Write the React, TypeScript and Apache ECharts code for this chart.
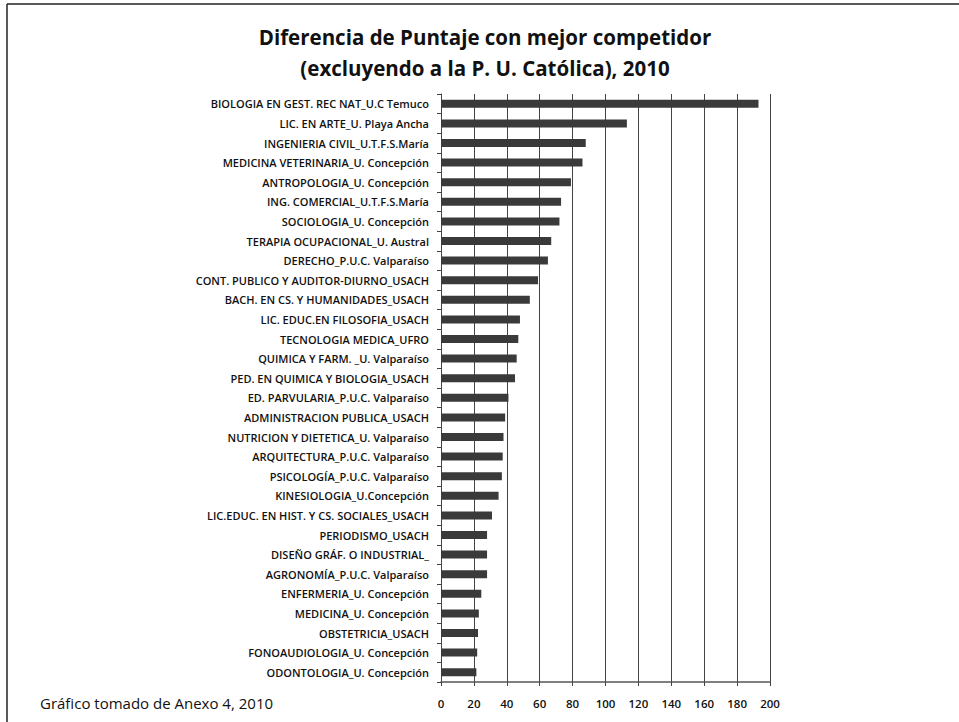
import React, { useEffect, useRef } from "react";
import * as echarts from "echarts";

const titleLines = [
  "Diferencia de Puntaje con mejor competidor",
  "(excluyendo a la P. U. Católica), 2010",
];
const footerText = "Gráfico tomado de Anexo 4, 2010";

const categories = [
  "BIOLOGIA EN GEST. REC NAT_U.C Temuco",
  "LIC. EN ARTE_U. Playa Ancha",
  "INGENIERIA CIVIL_U.T.F.S.María",
  "MEDICINA VETERINARIA_U. Concepción",
  "ANTROPOLOGIA_U. Concepción",
  "ING. COMERCIAL_U.T.F.S.María",
  "SOCIOLOGIA_U. Concepción",
  "TERAPIA OCUPACIONAL_U. Austral",
  "DERECHO_P.U.C. Valparaíso",
  "CONT. PUBLICO Y AUDITOR-DIURNO_USACH",
  "BACH. EN CS. Y HUMANIDADES_USACH",
  "LIC. EDUC.EN FILOSOFIA_USACH",
  "TECNOLOGIA MEDICA_UFRO",
  "QUIMICA Y FARM. _U. Valparaíso",
  "PED. EN QUIMICA Y BIOLOGIA_USACH",
  "ED. PARVULARIA_P.U.C. Valparaíso",
  "ADMINISTRACION PUBLICA_USACH",
  "NUTRICION Y DIETETICA_U. Valparaíso",
  "ARQUITECTURA_P.U.C. Valparaíso",
  "PSICOLOGÍA_P.U.C. Valparaíso",
  "KINESIOLOGIA_U.Concepción",
  "LIC.EDUC. EN HIST. Y CS. SOCIALES_USACH",
  "PERIODISMO_USACH",
  "DISEÑO GRÁF. O INDUSTRIAL_",
  "AGRONOMÍA_P.U.C. Valparaíso",
  "ENFERMERIA_U. Concepción",
  "MEDICINA_U. Concepción",
  "OBSTETRICIA_USACH",
  "FONOAUDIOLOGIA_U. Concepción",
  "ODONTOLOGIA_U. Concepción",
];

const values = [
  193, 113, 88, 86, 79, 73, 72, 67, 65, 59,
  54, 48, 47, 46, 45, 41, 39, 38, 37.5, 37,
  35, 31, 28, 28, 28, 24.5, 23, 22.5, 22, 21.5,
];

const xTicks = { min: 0, max: 200, interval: 20 };

export default function App() {
  const ref = useRef<HTMLDivElement>(null);
  useEffect(() => {
    if (!ref.current) return;
    const chart = echarts.init(ref.current, undefined, { renderer: "svg" });
    const labelFont = "'Open Sans', 'Noto Sans', sans-serif";
    chart.setOption({
      animation: false,
      backgroundColor: "#ffffff",
      grid: { left: 441, right: 189, top: 94, bottom: 40, containLabel: false },
      xAxis: {
        type: "value",
        min: xTicks.min,
        max: xTicks.max,
        interval: xTicks.interval,
        axisLine: { show: true, lineStyle: { color: "#555", width: 1.5 } },
        axisTick: { show: true, length: 4, lineStyle: { color: "#444" } },
        splitLine: { show: true, lineStyle: { color: "#444", width: 1 } },
        axisLabel: {
          color: "#111",
          fontFamily: labelFont,
          fontWeight: 600,
          fontSize: 11.5,
          margin: 15,
        },
      },
      yAxis: {
        type: "category",
        inverse: true,
        data: categories,
        axisLine: { show: true, lineStyle: { color: "#444", width: 1 } },
        axisTick: { show: true, length: 4, lineStyle: { color: "#444" } },
        axisLabel: {
          color: "#111",
          fontFamily: labelFont,
          fontWeight: 600,
          fontSize: 11,
          margin: 12,
        },
      },
      series: [
        {
          type: "bar",
          data: values,
          barWidth: 8,
          itemStyle: { color: "#3a3a3a" },
        },
      ],
      graphic: [
        {
          type: "line",
          shape: { x1: 7, y1: 4, x2: 959, y2: 4 },
          style: { stroke: "#222", lineWidth: 1.5 },
        },
        {
          type: "line",
          shape: { x1: 7, y1: 4, x2: 7, y2: 722 },
          style: { stroke: "#222", lineWidth: 1.5 },
        },
        {
          type: "text",
          x: 485,
          y: 37,
          style: {
            text: titleLines[0],
            fontFamily: labelFont,
            fontWeight: 700,
            fontSize: 20.5,
            fill: "#111",
            textAlign: "center",
            textVerticalAlign: "middle",
          },
        },
        {
          type: "text",
          x: 485,
          y: 68,
          style: {
            text: titleLines[1],
            fontFamily: labelFont,
            fontWeight: 700,
            fontSize: 20.5,
            fill: "#111",
            textAlign: "center",
            textVerticalAlign: "middle",
          },
        },
        {
          type: "text",
          x: 40,
          y: 703,
          style: {
            text: footerText,
            fontFamily: labelFont,
            fontWeight: 400,
            fontSize: 15,
            fill: "#111",
            textAlign: "left",
            textVerticalAlign: "middle",
          },
        },
      ],
    });
    return () => chart.dispose();
  }, []);
  return (
    <div
      ref={ref}
      style={{ position: "absolute", left: 0, top: 0, width: 959, height: 722 }}
    />
  );
}
